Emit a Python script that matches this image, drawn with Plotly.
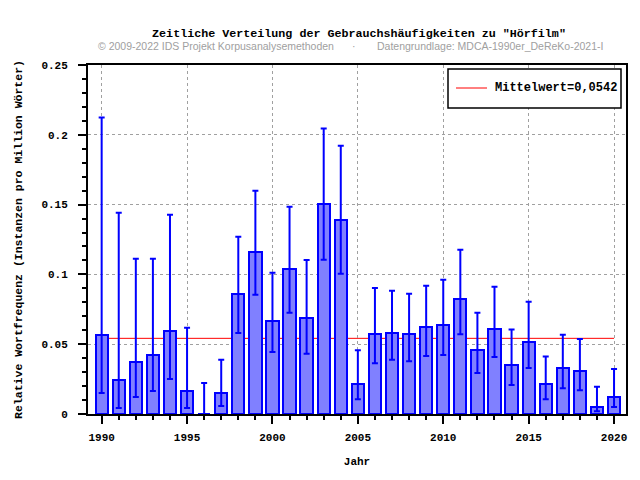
import plotly.graph_objects as go

years = list(range(1990, 2021))
values = [0.0567, 0.0246, 0.0373, 0.0426, 0.0598, 0.0165, 0.0, 0.0153, 0.0861, 0.1163,
          0.0667, 0.1041, 0.0689, 0.1507, 0.1392, 0.0215, 0.0574, 0.0581, 0.0574, 0.0620,
          0.0639, 0.0825, 0.0462, 0.0612, 0.0354, 0.0517, 0.0218, 0.0332, 0.0311, 0.0053,
          0.0124]
upper = [0.2124, 0.1442, 0.1112, 0.1112, 0.1428, 0.0617, 0.0222, 0.0388, 0.1270, 0.1600,
         0.1012, 0.1485, 0.1103, 0.2045, 0.1921, 0.0457, 0.0902, 0.0883, 0.0861, 0.0919,
         0.0962, 0.1177, 0.0725, 0.0911, 0.0605, 0.0804, 0.0411, 0.0567, 0.0538, 0.0196,
         0.0323]
lower = [0.0151, 0.0043, 0.0122, 0.0165, 0.0251, 0.0043, 0.0, 0.0057, 0.0581, 0.0854,
         0.0445, 0.0725, 0.0431, 0.1105, 0.1005, 0.0105, 0.0364, 0.0388, 0.0378, 0.0416,
         0.0423, 0.0572, 0.0294, 0.0409, 0.0208, 0.0330, 0.0105, 0.0184, 0.0170, 0.0019,
         0.0050]
mean_value = 0.0542
mean_label = "Mittelwert=0,0542"
title = 'Zeitliche Verteilung der Gebrauchshäufigkeiten zu "Hörfilm"'
credit_left = "© 2009-2022 IDS Projekt Korpusanalysemethoden"
credit_right = "Datengrundlage: MDCA-1990er_DeReKo-2021-I"
x_title = "Jahr"
y_title = "Relative Wortfrequenz (Instanzen pro Million Wörter)"

MONO = "Liberation Mono"
OFF = 8                      # page body margin offset
W, H = 640 - OFF, 480 - OFF
# plot area in screen pixels
L, R, T, B = 88, 626, 65, 414


def px(x):
    return (x - L) / (R - L)


def py(y):
    return (B - y) / (B - T)


fig = go.Figure()
fig.add_trace(go.Bar(
    x=years, y=values, width=0.72,
    marker=dict(color="#8080ff", line=dict(color="#0000ff", width=2)),
    error_y=dict(type="data", symmetric=False,
                 array=[u - v for u, v in zip(upper, values)],
                 arrayminus=[v - l for v, l in zip(values, lower)],
                 color="#0000ff", thickness=2, width=3),
    showlegend=False,
))

fig.add_shape(type="line", xref="x", yref="y", x0=years[0], x1=years[-1],
              y0=mean_value, y1=mean_value, line=dict(color="#ff0000", width=1),
              layer="below")

# legend box
fig.add_shape(type="rect", xref="paper", yref="paper", x0=px(448), x1=px(621),
              y0=py(108), y1=py(69), line=dict(color="black", width=1.5),
              fillcolor="white")
fig.add_shape(type="line", xref="paper", yref="paper", x0=px(456), x1=px(487),
              y0=py(88), y1=py(88), line=dict(color="#ff0000", width=1))
fig.add_annotation(xref="paper", yref="paper", x=px(493), y=py(88), text=mean_label,
                   showarrow=False, xanchor="left", yanchor="middle",
                   font=dict(family=MONO, size=12, color="black", weight="bold"))

# credits
credit_font = dict(family="Liberation Sans", size=10.5, color="#a0a0a0")
fig.add_annotation(xref="paper", yref="paper", x=px(96), y=py(46), text=credit_left,
                   showarrow=False, xanchor="left", yanchor="middle", font=credit_font)
fig.add_annotation(xref="paper", yref="paper", x=px(354), y=py(46), text="·",
                   showarrow=False, xanchor="center", yanchor="middle", font=credit_font)
fig.add_annotation(xref="paper", yref="paper", x=px(375), y=py(46), text=credit_right,
                   showarrow=False, xanchor="left", yanchor="middle", font=credit_font)

tickfont = dict(family=MONO, size=11, color="black", weight="bold")
fig.update_layout(
    width=W, height=H,
    margin=dict(l=L - OFF, r=640 - R, t=T - OFF, b=480 - B, pad=0, autoexpand=False),
    paper_bgcolor="white", plot_bgcolor="white",
    title=dict(text=title, x=(359 - OFF) / W, xref="container", xanchor="center",
               y=1 - (33 - OFF) / H, yref="container", yanchor="middle",
               font=dict(family=MONO, size=11.7, color="black", weight="bold")),
    bargap=0,
)
fig.update_xaxes(
    range=[1989.2, 2020.7], tickmode="linear", tick0=1990, dtick=5,
    ticks="outside", ticklen=8, tickwidth=2, tickcolor="black",
    showline=True, linecolor="black", linewidth=2, mirror=True,
    showgrid=True, gridcolor="#a0a0a0", griddash="dot", gridwidth=1,
    zeroline=False, tickfont=tickfont, ticklabelstandoff=4, automargin=False,
    minor=dict(dtick=1, tick0=1990, ticks="outside", ticklen=4, tickwidth=2,
               tickcolor="black", showgrid=False),
    title=dict(text=x_title, font=dict(family=MONO, size=11, color="black", weight="bold"),
               standoff=14),
)
fig.update_yaxes(
    range=[0, 0.25], tickmode="linear", tick0=0, dtick=0.05,
    ticks="outside", ticklen=8, tickwidth=2, tickcolor="black",
    showline=True, linecolor="black", linewidth=2, mirror=True,
    showgrid=True, gridcolor="#a0a0a0", griddash="dot", gridwidth=1,
    zeroline=False, tickfont=tickfont, ticklabelstandoff=8, automargin=False,
    minor=dict(dtick=0.01, tick0=0, ticks="outside", ticklen=4, tickwidth=2,
               tickcolor="black", showgrid=False),
    title=dict(text=y_title, font=dict(family=MONO, size=11.5, color="black", weight="bold"),
               standoff=16),
)

fig.write_html("out.html")
